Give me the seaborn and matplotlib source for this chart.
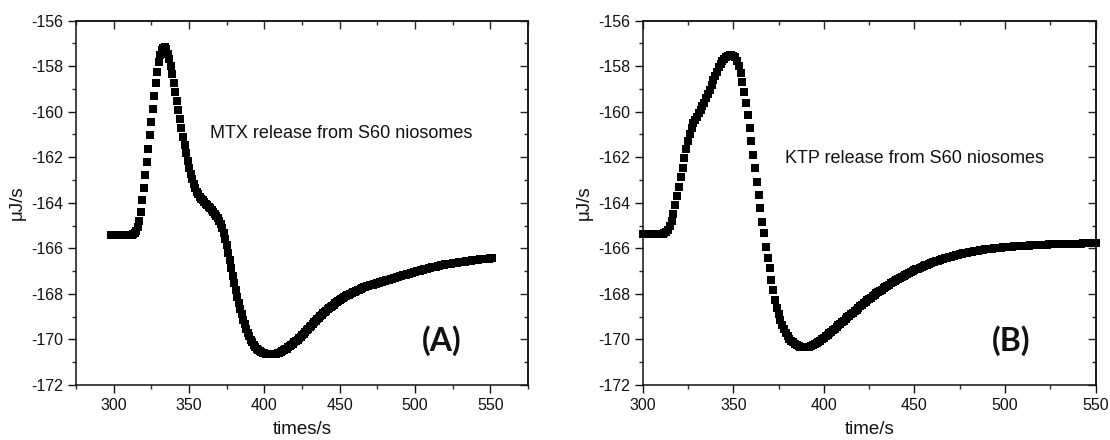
import numpy as np
import matplotlib
matplotlib.use("Agg")
import matplotlib.pyplot as plt
from matplotlib.ticker import MultipleLocator
import seaborn as sns

# ---------------- data ----------------
start_a = 298  # first time of panel A, 1 s sampling
flow_a = [
    -165.40, -165.40,
    -165.40, -165.40, -165.40, -165.40, -165.40, -165.40, -165.40, -165.40, -165.40, -165.40,
    -165.40, -165.40, -165.40, -165.38, -165.32, -165.22, -165.05, -164.80, -164.40, -163.90,
    -163.35, -162.78, -162.20, -161.62, -161.04, -160.46, -159.88, -159.31, -158.76, -158.25,
    -157.82, -157.50, -157.30, -157.20, -157.18, -157.26, -157.45, -157.70, -158.00, -158.35,
    -158.74, -159.14, -159.54, -159.94, -160.34, -160.73, -161.11, -161.48, -161.83, -162.16,
    -162.46, -162.73, -162.97, -163.18, -163.36, -163.51, -163.63, -163.73, -163.82, -163.90,
    -163.97, -164.04, -164.11, -164.18, -164.25, -164.32, -164.40, -164.48, -164.57, -164.68,
    -164.80, -164.95, -165.12, -165.33, -165.58, -165.87, -166.19, -166.52, -166.86, -167.20,
    -167.52, -167.83, -168.12, -168.40, -168.66, -168.90, -169.13, -169.34, -169.53, -169.71,
    -169.87, -170.01, -170.13, -170.24, -170.33, -170.40, -170.46, -170.51, -170.55, -170.58,
    -170.60, -170.62, -170.63, -170.64, -170.64, -170.64, -170.64, -170.63, -170.62, -170.60,
    -170.58, -170.55, -170.52, -170.48, -170.44, -170.40, -170.35, -170.30, -170.25, -170.19,
    -170.13, -170.07, -170.01, -169.95, -169.88, -169.81, -169.74, -169.67, -169.60, -169.53,
    -169.46, -169.39, -169.32, -169.25, -169.18, -169.11, -169.04, -168.98, -168.92, -168.86,
    -168.80, -168.74, -168.68, -168.62, -168.57, -168.52, -168.47, -168.42, -168.37, -168.32,
    -168.27, -168.23, -168.19, -168.15, -168.11, -168.07, -168.03, -167.99, -167.96, -167.93,
    -167.90, -167.87, -167.84, -167.81, -167.78, -167.75, -167.72, -167.69, -167.67, -167.65,
    -167.63, -167.61, -167.59, -167.57, -167.55, -167.53, -167.51, -167.49, -167.47, -167.45,
    -167.43, -167.41, -167.39, -167.37, -167.35, -167.33, -167.31, -167.29, -167.27, -167.25,
    -167.23, -167.21, -167.19, -167.17, -167.15, -167.13, -167.11, -167.09, -167.07, -167.05,
    -167.03, -167.01, -166.99, -166.98, -166.96, -166.94, -166.92, -166.91, -166.89, -166.87,
    -166.86, -166.84, -166.83, -166.81, -166.80, -166.78, -166.77, -166.75, -166.74, -166.73,
    -166.71, -166.70, -166.69, -166.68, -166.67, -166.66, -166.65, -166.64, -166.63, -166.62,
    -166.61, -166.60, -166.59, -166.58, -166.57, -166.56, -166.55, -166.54, -166.53, -166.52,
    -166.51, -166.50, -166.50, -166.49, -166.48, -166.47, -166.47, -166.46, -166.45, -166.45,
    -166.44, -166.44,
]

start_b = 300  # first time of panel B, 1 s sampling
flow_b = [
    -165.35, -165.35, -165.35, -165.35, -165.35, -165.35, -165.35, -165.35, -165.35, -165.35,
    -165.35, -165.35, -165.33, -165.28, -165.18, -165.02, -164.78, -164.48, -164.12, -163.72,
    -163.30, -162.88, -162.46, -162.05, -161.66, -161.30, -160.98, -160.72, -160.52, -160.36,
    -160.22, -160.08, -159.93, -159.77, -159.60, -159.42, -159.23, -159.03, -158.83, -158.63,
    -158.43, -158.24, -158.06, -157.90, -157.77, -157.67, -157.60, -157.55, -157.52, -157.52,
    -157.55, -157.62, -157.76, -157.98, -158.30, -158.68, -159.12, -159.63, -160.14, -160.73,
    -161.31, -161.90, -162.49, -163.07, -163.66, -164.24, -164.83, -165.34, -165.93, -166.44,
    -166.88, -167.39, -167.85, -168.25, -168.60, -168.90, -169.15, -169.37, -169.56, -169.72,
    -169.85, -169.96, -170.05, -170.13, -170.19, -170.24, -170.28, -170.31, -170.33, -170.34,
    -170.34, -170.33, -170.31, -170.28, -170.24, -170.20, -170.15, -170.10, -170.05, -169.99,
    -169.93, -169.86, -169.80, -169.73, -169.67, -169.60, -169.53, -169.46, -169.38, -169.31,
    -169.24, -169.17, -169.10, -169.03, -168.96, -168.89, -168.82, -168.75, -168.69, -168.62,
    -168.55, -168.48, -168.42, -168.35, -168.29, -168.22, -168.16, -168.10, -168.04, -167.98,
    -167.92, -167.86, -167.81, -167.75, -167.70, -167.64, -167.59, -167.54, -167.49, -167.44,
    -167.39, -167.34, -167.30, -167.25, -167.21, -167.16, -167.12, -167.08, -167.04, -167.00,
    -166.96, -166.92, -166.89, -166.85, -166.82, -166.78, -166.75, -166.72, -166.68, -166.65,
    -166.62, -166.59, -166.56, -166.54, -166.51, -166.48, -166.46, -166.43, -166.41, -166.38,
    -166.36, -166.34, -166.32, -166.30, -166.28, -166.26, -166.24, -166.22, -166.21, -166.19,
    -166.17, -166.16, -166.14, -166.13, -166.11, -166.10, -166.09, -166.08, -166.06, -166.05,
    -166.04, -166.03, -166.02, -166.01, -166.00, -165.99, -165.98, -165.97, -165.97, -165.96,
    -165.95, -165.94, -165.94, -165.93, -165.93, -165.92, -165.91, -165.91, -165.90, -165.90,
    -165.89, -165.89, -165.88, -165.88, -165.87, -165.87, -165.86, -165.86, -165.85, -165.85,
    -165.85, -165.84, -165.84, -165.84, -165.83, -165.83, -165.83, -165.82, -165.82, -165.82,
    -165.81, -165.81, -165.81, -165.81, -165.80, -165.80, -165.80, -165.80, -165.79, -165.79,
    -165.79, -165.79, -165.79, -165.78, -165.78, -165.78, -165.78, -165.78, -165.77, -165.77,
    -165.77,
]

x_ticks = [300, 350, 400, 450, 500, 550]
y_ticks = [-172, -170, -168, -166, -164, -162, -160, -158, -156]
x_labels = ["times/s", "time/s"]
y_label = "\u03bcJ/s"
notes = ["MTX release from S60 niosomes", "KTP release from S60 niosomes"]
panel_tags = ["(A)", "(B)"]

time_a = np.arange(start_a, start_a + len(flow_a))
time_b = np.arange(start_b, start_b + len(flow_b))

# ---------------- style ----------------
sns.set_style("ticks")
plt.rcParams["font.family"] = ["Liberation Sans", "DejaVu Sans"]
plt.rcParams["axes.linewidth"] = 1.1
plt.rcParams["axes.unicode_minus"] = False

fig = plt.figure(figsize=(11.1, 4.4), dpi=100)
fig.patch.set_facecolor("white")
ax_a = fig.add_axes([0.0685, 0.125, 0.4072, 0.8284])
ax_b = fig.add_axes([0.579, 0.125, 0.4081, 0.8284])

panels = [
    (ax_a, time_a, flow_a, (275, 575), (364, -160.95), (518, -170.03)),
    (ax_b, time_b, flow_b, (300, 550), (378.7, -162.05), (503.5, -170.03)),
]

for i, (ax, t, f, xlim, note_pos, tag_pos) in enumerate(panels):
    sns.scatterplot(x=t, y=f, ax=ax, marker="s", s=40, color="black",
                    linewidth=0, clip_on=False, legend=False)
    ax.set_xlim(*xlim)
    ax.set_ylim(-172, -156)
    ax.set_xticks(x_ticks)
    ax.set_yticks(y_ticks)
    ax.xaxis.set_minor_locator(MultipleLocator(25))
    ax.yaxis.set_minor_locator(MultipleLocator(1))
    ax.tick_params(which="major", direction="out", length=5.5, width=1.0,
                   labelsize=11.5, colors="#111111", top=False, right=False)
    ax.tick_params(which="minor", direction="out", length=2.8, width=1.0,
                   top=False, right=False)
    for side in ["top", "right", "left", "bottom"]:
        ax.spines[side].set_visible(True)
        ax.spines[side].set_color("#111111")

    # mirrored inward ticks on top / right
    top = ax.secondary_xaxis("top")
    top.set_xticks(x_ticks)
    top.xaxis.set_minor_locator(MultipleLocator(25))
    top.tick_params(which="major", direction="in", length=5.5, width=1.0, labeltop=False)
    top.tick_params(which="minor", direction="in", length=2.8, width=1.0)
    right = ax.secondary_yaxis("right")
    right.set_yticks(y_ticks)
    right.yaxis.set_minor_locator(MultipleLocator(1))
    right.tick_params(which="major", direction="in", length=5.5, width=1.0, labelright=False)
    right.tick_params(which="minor", direction="in", length=2.8, width=1.0)

    ax.set_xlabel(x_labels[i], fontsize=13.5, color="#111111", labelpad=6)
    ax.set_ylabel(y_label, fontsize=13.5, color="#111111", labelpad=4)

    ax.text(note_pos[0], note_pos[1], notes[i], fontsize=13, ha="left",
            va="center", color="#111111")
    ax.text(tag_pos[0], tag_pos[1], panel_tags[i], fontsize=23,
            fontweight="bold", ha="center", va="center", color="#111111",
            family=["Lato", "DejaVu Sans"])

fig.savefig("out.png", dpi=100, facecolor="white")
